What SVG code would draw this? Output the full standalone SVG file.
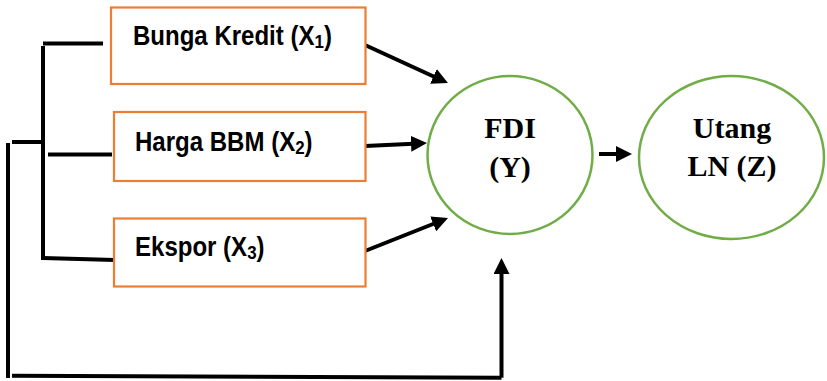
<svg xmlns="http://www.w3.org/2000/svg" width="827" height="381" viewBox="0 0 827 381">
<style>
.box{fill:#fff;stroke:#ED7D31;stroke-width:2.2}
.ell{fill:#fff;stroke:#70AD47;stroke-width:2.5}
.lbl{font-family:"Liberation Sans",Arial,sans-serif;font-weight:bold;font-size:27px;fill:#000}
.sub{font-size:19px}
.ser{font-family:"Liberation Serif","Times New Roman",serif;font-weight:bold;font-size:30px;fill:#000;text-anchor:middle}
.ln{fill:none;stroke:#000;stroke-width:4}
</style>
<defs>
<marker id="ah" markerUnits="userSpaceOnUse" markerWidth="16" markerHeight="16" viewBox="0 0 16 16" refX="8" refY="8" orient="auto">
<path d="M0,0 L16,8 L0,16 z" fill="#000"/>
</marker>
</defs>
<rect width="827" height="381" fill="#fff"/>
<g id="connectors">
<path class="ln" d="M43,43.5 H103"/>
<path class="ln" d="M43,46 V260"/>
<path class="ln" d="M48,154.5 H112"/>
<path class="ln" d="M43,258 L115,260"/>
<path class="ln" d="M12,142 H41"/>
<path class="ln" d="M8,143 V378"/>
<path class="ln" d="M12,375.7 L501.5,377.7"/>
<path class="ln" d="M501.5,377.7 V266" marker-end="url(#ah)"/>
<path class="ln" d="M365,45 L440.7,79.7" marker-end="url(#ah)"/>
<path class="ln" d="M365,146 L419,143.4" marker-end="url(#ah)"/>
<path class="ln" d="M365,251 L440.6,221" marker-end="url(#ah)"/>
<path class="ln" d="M599,154 L624,154" marker-end="url(#ah)"/>
</g>
<g id="x1">
<rect class="box" x="111" y="7.5" width="254.5" height="76.5"/>
<text class="lbl" transform="translate(133,45) scale(0.89,1)">Bunga Kredit (X<tspan class="sub" dy="3">1</tspan><tspan dy="-3">)</tspan></text>
</g>
<g id="x2">
<rect class="box" x="114" y="112" width="251.5" height="69"/>
<text class="lbl" transform="translate(135,151) scale(0.89,1)">Harga BBM (X<tspan class="sub" dy="3">2</tspan><tspan dy="-3">)</tspan></text>
</g>
<g id="x3">
<rect class="box" x="114" y="218.5" width="251.5" height="68"/>
<text class="lbl" transform="translate(135,256) scale(0.89,1)">Ekspor (X<tspan class="sub" dy="3">3</tspan><tspan dy="-3">)</tspan></text>
</g>
<g id="fdi">
<ellipse class="ell" cx="510" cy="155" rx="82.5" ry="79"/>
<text class="ser" x="510" y="138">FDI</text>
<text class="ser" x="510" y="177">(Y)</text>
</g>
<g id="utang">
<ellipse class="ell" cx="731.5" cy="157.5" rx="92.5" ry="81.5"/>
<text class="ser" x="732" y="138">Utang</text>
<text class="ser" x="732" y="176">LN (Z)</text>
</g>
</svg>
